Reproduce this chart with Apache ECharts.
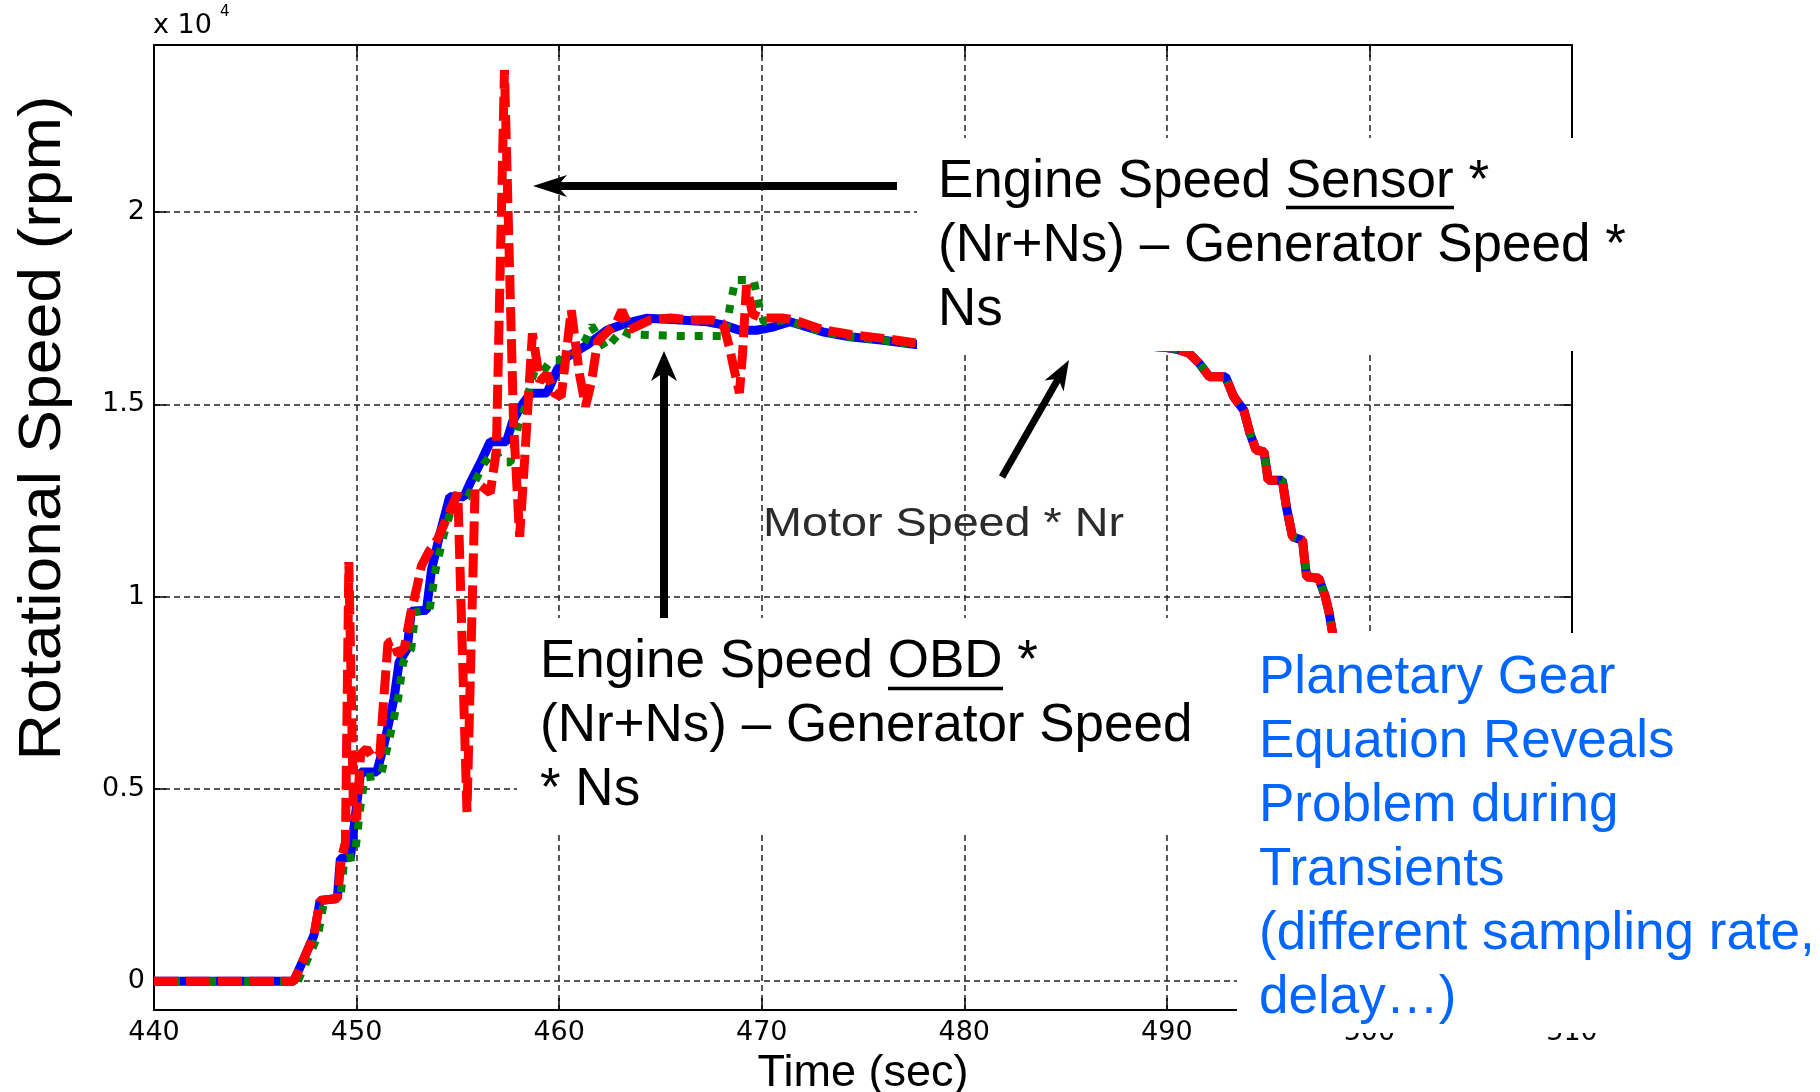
<!DOCTYPE html>
<html>
<head>
<meta charset="utf-8">
<script src="https://cdn.jsdelivr.net/npm/echarts@6/dist/echarts.min.js"></script>
<style>html,body{margin:0;padding:0;background:#fff}#c{width:1820px;height:1092px}</style>
</head>
<body>
<div id="c"></div>
<script>
// ---- Data (time in s, speed in rpm) ----
const motorTime = [440, 446.9, 447.4, 447.9, 448.2, 449.05, 449.2, 449.7, 450.0, 450.2, 451.0, 451.35, 451.85, 452.1, 452.5, 452.7, 453.45, 453.7, 454.1, 454.6, 455.3, 455.6, 456.1, 456.6, 457.4, 457.7, 458.1, 458.6, 459.4, 459.9, 460.4, 461.35, 462.35, 463.3, 464.3, 465.6, 467.3, 468.1, 468.9, 469.75, 470.6, 471.4, 473.0, 474.35, 476.0, 477.6, 480.0, 484.0, 488.0, 490.0, 490.6, 491.1, 491.6, 492.1, 492.9, 493.3, 493.8, 494.1, 494.4, 494.8, 495.0, 495.7, 495.9, 496.2, 496.7, 496.8, 496.9, 497.5, 497.8, 498.0, 498.2, 498.6];
const motorSpeed = [0, 0, 590, 1200, 2100, 2150, 3190, 3230, 4575, 5440, 5440, 6140, 7350, 8300, 8650, 9620, 9650, 10700, 11600, 12600, 12600, 12950, 13470, 14030, 14030, 14550, 14940, 15290, 15300, 15900, 16240, 16540, 16930, 17110, 17240, 17210, 17150, 17070, 16930, 16930, 17020, 17150, 16890, 16760, 16670, 16560, 16570, 16570, 16560, 16480, 16420, 16330, 16070, 15720, 15720, 15200, 14850, 14250, 13820, 13770, 13030, 13030, 12340, 11560, 11470, 10950, 10520, 10480, 10040, 9610, 9000, 8200];

const obdTime = [440, 447.1, 447.6, 448.1, 448.4, 449.2, 449.4, 449.9, 450.2, 450.4, 451.2, 451.55, 452.05, 452.3, 452.7, 452.9, 453.6, 453.9, 454.3, 454.8, 455.5, 455.8, 456.3, 456.8, 457.2, 457.6, 458.0, 458.3, 458.7, 459.0, 459.6, 460.0, 460.6, 461.3, 461.6, 462.3, 463.1, 463.5, 466.0, 468.2, 468.45, 468.7, 469.6, 469.9, 470.1, 471.2, 473.0, 474.35, 476.0, 477.6, 480.0, 484.0, 488.0, 490.0, 490.6, 491.1, 491.6, 492.1, 492.9, 493.3, 493.8, 494.1, 494.4, 494.8, 495.0, 495.7, 495.9, 496.2, 496.7, 496.8, 496.9, 497.5, 497.8, 498.0, 498.2, 498.6];
const obdSpeed = [0, 0, 590, 1200, 2100, 2150, 3190, 3230, 4575, 5300, 5350, 6140, 7350, 8300, 8650, 9600, 9650, 10700, 11600, 12500, 12600, 12950, 13470, 13800, 13500, 13500, 14500, 14900, 15760, 15700, 16150, 16150, 16200, 16670, 17050, 16450, 16930, 16820, 16780, 16780, 17600, 18240, 18240, 17500, 17150, 17190, 16890, 16760, 16670, 16560, 16570, 16570, 16560, 16480, 16420, 16330, 16070, 15720, 15720, 15200, 14850, 14250, 13820, 13770, 13030, 13030, 12340, 11560, 11470, 10950, 10520, 10480, 10040, 9610, 9000, 8200];

const sensorTime = [440, 446.9, 447.4, 447.9, 448.2, 449.05, 449.25, 449.45, 449.62, 449.85, 450.0, 450.2, 450.5, 450.8, 451.15, 451.35, 451.55, 451.8, 452.05, 452.35, 452.65, 453.0, 453.2, 453.6, 454.0, 454.5, 455.0, 455.45, 455.85, 456.1, 456.6, 456.9, 457.3, 457.75, 458.05, 458.3, 458.68, 459.05, 459.4, 459.75, 460.1, 460.6, 461.0, 461.3, 461.6, 461.9, 462.4, 462.8, 463.1, 463.5, 463.9, 464.5, 465.5, 466.5, 467.5, 468.1, 468.4, 468.6, 468.9, 469.05, 469.25, 469.55, 470.0, 471.0, 471.6, 473.0, 474.4, 476.0, 477.6, 480.0, 484.0, 488.0, 490.0, 490.6, 491.1, 491.6, 492.1, 492.9, 493.3, 493.8, 494.1, 494.4, 494.8, 495.0, 495.7, 495.9, 496.2, 496.7, 496.8, 496.9, 497.5, 497.8, 498.0, 498.2, 498.6];
const sensorSpeed = [0, 0, 590, 1200, 2100, 2150, 3200, 3600, 10900, 4300, 4200, 5900, 6050, 5800, 5900, 7400, 8800, 8850, 8500, 8650, 9500, 10300, 10800, 11200, 11500, 12100, 12700, 4400, 12800, 12900, 12700, 13800, 23700, 14500, 11560, 13600, 16850, 15600, 15800, 15300, 15200, 17450, 15800, 14950, 15600, 16650, 16900, 17100, 17450, 16950, 17050, 17200, 17250, 17200, 17200, 17100, 16500, 16000, 15300, 16300, 18100, 17350, 17250, 17250, 17200, 16950, 16820, 16720, 16600, 16580, 16570, 16560, 16480, 16420, 16330, 16070, 15720, 15720, 15200, 14850, 14250, 13820, 13770, 13030, 13030, 12340, 11560, 11470, 10950, 10520, 10480, 10040, 9610, 9000, 8200];

const xMin = 440, xMax = 510, xStep = 10;
const yMin = -750, yMax = 24350;

// ---- Chart ----
const chart = echarts.init(document.getElementById('c'), null, {renderer: 'canvas'});
const pairs = (t, v) => t.map((x, i) => [x, v[i]]);

function arrow(x1, y1, x2, y2, w, hl, hw) {
  const dx = x2 - x1, dy = y2 - y1, L = Math.hypot(dx, dy);
  const ux = dx / L, uy = dy / L, nx = -uy, ny = ux;
  const bx = x2 - ux * hl, by = y2 - uy * hl;
  const mx = x2 - ux * hl * 0.72, my = y2 - uy * hl * 0.72;
  return [
    {type: 'line', z: 60, shape: {x1: x1, y1: y1, x2: mx, y2: my}, style: {stroke: '#000', lineWidth: w}},
    {type: 'polygon', z: 61, shape: {points: [[x2, y2], [bx + nx * hw, by + ny * hw], [mx, my], [bx - nx * hw, by - ny * hw]]}, style: {fill: '#000'}}
  ];
}

const tickFont = {fontFamily: 'DejaVu Sans', fontSize: 27, color: '#000'};
const gridLine = {show: true, lineStyle: {color: '#222', width: 1.5, type: [6, 4]}};
const axLine = {show: true, onZero: false, lineStyle: {color: '#000', width: 2}};
const axTick = {show: true, inside: true, length: 12, lineStyle: {color: '#000', width: 1.5}};

const bigFont = '53px "Liberation Sans", Arial, sans-serif';

const option = {
  backgroundColor: '#ffffff',
  animation: false,
  grid: {left: 154, right: 248, top: 45, bottom: 82, containLabel: false, outerBoundsMode: 'none'},
  xAxis: [
    {type: 'value', min: xMin, max: xMax, interval: xStep, position: 'bottom',
     axisLine: axLine, axisTick: axTick, splitLine: gridLine,
     axisLabel: Object.assign({margin: 9}, tickFont),
     name: 'Time (sec)', nameLocation: 'middle', nameGap: 35,
     nameTextStyle: {fontFamily: 'Liberation Sans', fontSize: 45, color: '#000'}},
    {type: 'value', min: xMin, max: xMax, interval: xStep, position: 'top',
     axisLine: axLine, axisTick: axTick, splitLine: {show: false}, axisLabel: {show: false}}
  ],
  yAxis: [
    {type: 'value', min: yMin, max: yMax, splitNumber: 5, position: 'left',
     axisLine: axLine, axisTick: axTick, splitLine: gridLine,
     axisLabel: Object.assign({margin: 9, showMinLabel: false, showMaxLabel: false,
       formatter: v => String(Math.round(v / 1000) / 10)}, tickFont)},
    {type: 'value', min: yMin, max: yMax, splitNumber: 5, position: 'right',
     axisLine: axLine, axisTick: axTick, splitLine: {show: false}, axisLabel: {show: false}}
  ],
  series: [
    {type: 'line', name: 'Motor Speed * Nr', data: pairs(motorTime, motorSpeed),
     symbol: 'none', z: 2, lineStyle: {color: '#0000ff', width: 9}},
    {type: 'line', name: 'Engine Speed OBD', data: pairs(obdTime, obdSpeed),
     symbol: 'none', z: 3, lineStyle: {color: '#008000', width: 8, type: [8, 10]}},
    {type: 'line', name: 'Engine Speed Sensor', data: pairs(sensorTime, sensorSpeed),
     symbol: 'none', z: 4, lineStyle: {color: '#ff0000', width: 9, type: [24, 8]}}
  ],
  graphic: {elements: [
    // white annotation boxes
    {type: 'rect', z: 50, shape: {x: 917, y: 138, width: 704, height: 213}, style: {fill: '#fff'}},
    {type: 'rect', z: 50, shape: {x: 517, y: 618, width: 721, height: 213}, style: {fill: '#fff'}},
    {type: 'rect', z: 50, shape: {x: 1237, y: 633, width: 583, height: 400}, style: {fill: '#fff'}},
    // texts
    {type: 'text', z: 60, x: 938, y: 150.5, style: {text: 'Engine Speed Sensor *\n(Nr+Ns) – Generator Speed *\nNs',
      font: bigFont, lineHeight: 64, fill: '#000', align: 'left', verticalAlign: 'top', textAlign: 'left', textVerticalAlign: 'top'}},
    {type: 'line', z: 60, shape: {x1: 1286, y1: 207.5, x2: 1454, y2: 207.5}, style: {stroke: '#000', lineWidth: 3.5}},
    {type: 'text', z: 60, x: 540, y: 630.5, style: {text: 'Engine Speed OBD *\n(Nr+Ns) – Generator Speed\n* Ns',
      font: bigFont, lineHeight: 64, fill: '#000', align: 'left', verticalAlign: 'top', textAlign: 'left', textVerticalAlign: 'top'}},
    {type: 'line', z: 60, shape: {x1: 888, y1: 688.5, x2: 1003, y2: 688.5}, style: {stroke: '#000', lineWidth: 3.5}},
    {type: 'text', z: 60, x: 1259, y: 646, style: {text: 'Planetary Gear\nEquation Reveals\nProblem during\nTransients\n(different sampling rate,\ndelay…)',
      font: bigFont, lineHeight: 64, fill: '#0066ff', align: 'left', verticalAlign: 'top', textAlign: 'left', textVerticalAlign: 'top'}},
    {type: 'text', z: 60, x: 763, y: 525, scaleX: 1.14, style: {text: 'Motor Speed * Nr',
      font: '41px "Liberation Sans", Arial, sans-serif', fill: '#2b2b2b', align: 'left', verticalAlign: 'middle', textAlign: 'left', textVerticalAlign: 'middle'}},
    // axis decorations
    {type: 'text', z: 60, x: 43.5, y: 428, rotation: Math.PI / 2, scaleX: 1.09, style: {text: 'Rotational Speed (rpm)',
      font: '59px "Liberation Sans", Arial, sans-serif', fill: '#000', align: 'center', verticalAlign: 'middle', textAlign: 'center', textVerticalAlign: 'middle'}},
    {type: 'text', z: 60, x: 153, y: 26, style: {text: 'x 10', font: '27px "DejaVu Sans"', fill: '#000', align: 'left', verticalAlign: 'middle', textAlign: 'left', textVerticalAlign: 'middle'}},
    {type: 'text', z: 60, x: 220, y: 12, style: {text: '4', font: '15px "DejaVu Sans"', fill: '#000', align: 'left', verticalAlign: 'middle', textAlign: 'left', textVerticalAlign: 'middle'}}
  ]
  .concat(arrow(897, 186, 533, 186, 8, 34, 11))
  .concat(arrow(664, 618, 664, 351, 8, 30, 13))
  .concat(arrow(1002, 477, 1069, 360, 7, 30, 11))
  }
};
chart.setOption(option);
</script>
</body>
</html>
